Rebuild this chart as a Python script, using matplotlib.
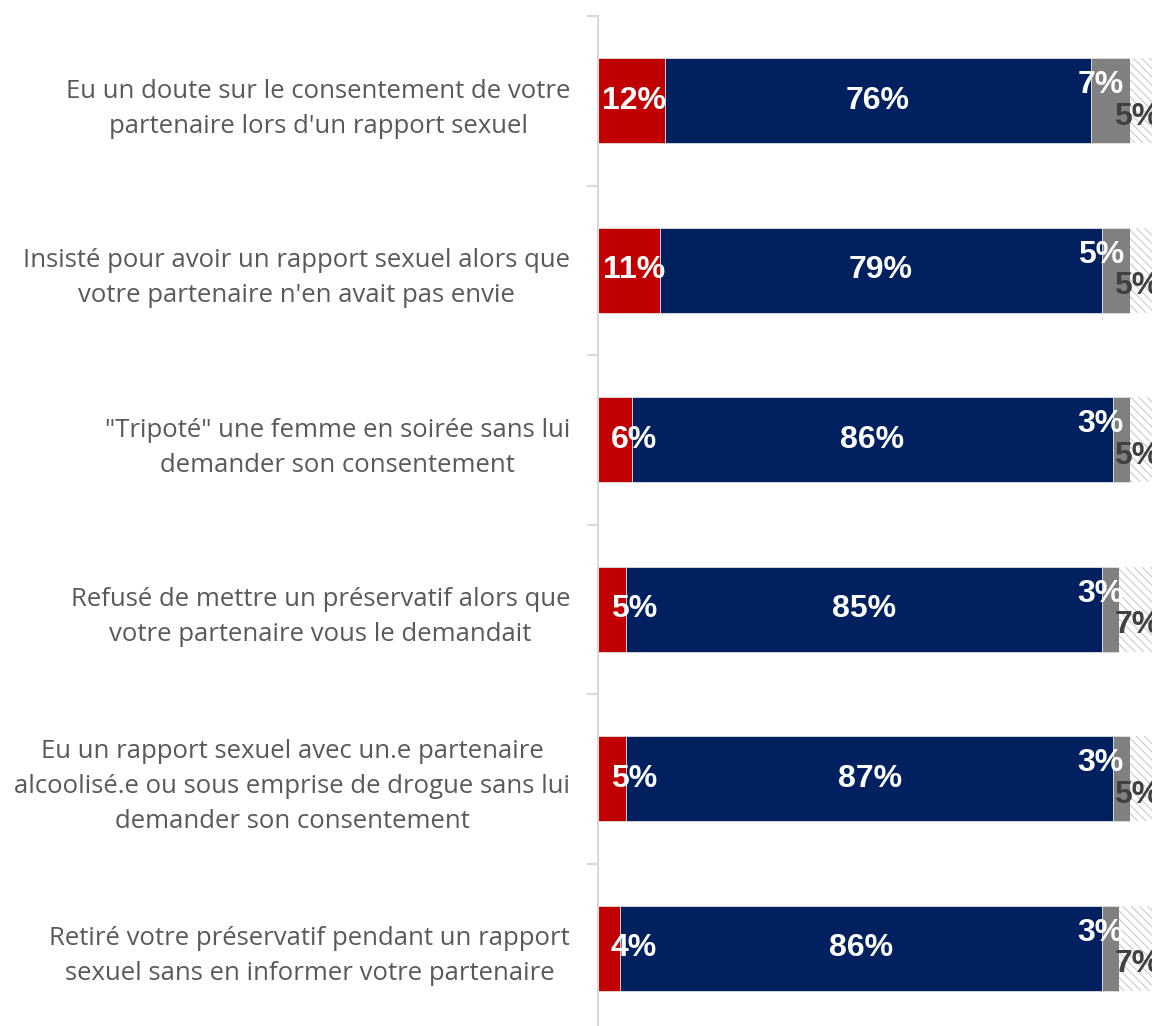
import matplotlib
matplotlib.use("Agg")
import matplotlib.pyplot as plt

categories = [
    "Eu un doute sur le consentement de votre\npartenaire lors d'un rapport sexuel",
    "Insisté pour avoir un rapport sexuel alors que\nvotre partenaire n'en avait pas envie",
    "\"Tripoté\" une femme en soirée sans lui\ndemander son consentement",
    "Refusé de mettre un préservatif alors que\nvotre partenaire vous le demandait",
    "Eu un rapport sexuel avec un.e partenaire\nalcoolisé.e ou sous emprise de drogue sans lui\ndemander son consentement",
    "Retiré votre préservatif pendant un rapport\nsexuel sans en informer votre partenaire",
]
oui = [12, 11, 6, 5, 5, 4]
non = [76, 79, 86, 85, 87, 86]
nsp = [7, 5, 3, 3, 3, 3]
nr = [5, 5, 5, 7, 5, 7]

RED = "#C00000"
NAVY = "#002060"
GRAY = "#808080"
HATCH = "#C4C4C4"

plt.rcParams['hatch.linewidth'] = 0.7

fig = plt.figure(figsize=(11.52, 10.26), dpi=100)
W, H = 1152, 1026
left_px, right_px = 598, 1158
top_px, bot_px = 16, 1033
ax = fig.add_axes([left_px / W, 1 - bot_px / H, (right_px - left_px) / W, (bot_px - top_px) / H])

n = len(categories)
y = list(range(n))
bh = 0.5

ax.barh(y, oui, height=bh, color=RED, edgecolor="#E0E0E0", linewidth=0.6)
ax.barh(y, non, left=oui, height=bh, color=NAVY, edgecolor="#E0E0E0", linewidth=0.6)
left3 = [a + b for a, b in zip(oui, non)]
ax.barh(y, nsp, left=left3, height=bh, color=GRAY, edgecolor="#E0E0E0", linewidth=0.6)
left4 = [a + b for a, b in zip(left3, nsp)]
ax.barh(y, nr, left=left4, height=bh, color="white", edgecolor=HATCH,
        linewidth=0, hatch="\\" * 4)

bold = dict(fontfamily="Liberation Sans", fontweight="bold", fontsize=23)
for i in range(n):
    xc = max(oui[i] / 2, 6.4)
    ax.text(xc, i, f"{oui[i]}%", ha="center", va="center", color="white", **bold)
    ax.text(oui[i] + non[i] / 2, i, f"{non[i]}%", ha="center", va="center", color="white", **bold)
    ax.text(89.8, i - 0.09, f"{nsp[i]}%", ha="center", va="center", color="white", **bold)
    ax.text(96.3, i + 0.095, f"{nr[i]}%", ha="center", va="center", color="#404040", **bold)

ax.set_xlim(0, 100)
ax.set_ylim(n - 0.5, -0.5)
ax.set_xticks([])
ax.set_yticks(y)
ax.set_yticklabels(categories, fontfamily="Open Sans", fontsize=18.5, color="#595959",
                   multialignment="center", linespacing=1.52)
ax.tick_params(axis="y", which="major", length=0, pad=20)
ax.set_yticks([i - 0.5 for i in range(n + 1)], minor=True)
ax.tick_params(axis="y", which="minor", length=8, width=1.5, color="#D9D9D9", direction="out")
for s in ["top", "right", "bottom"]:
    ax.spines[s].set_visible(False)
ax.spines["left"].set_color("#D9D9D9")
ax.spines["left"].set_linewidth(1.5)

fig.savefig("out.png", dpi=100)
